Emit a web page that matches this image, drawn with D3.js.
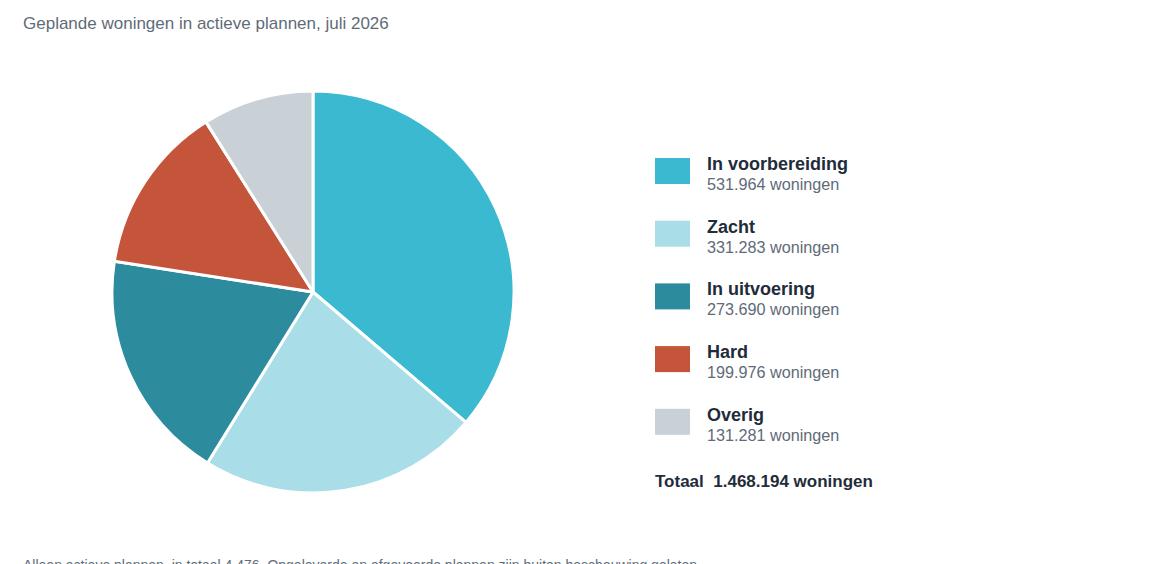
<!DOCTYPE html>
<html><head><meta charset="utf-8">
<script src="https://cdn.jsdelivr.net/npm/d3@7"></script>
<style>
html,body{margin:0;padding:0;background:#fff;}
svg{display:block;}
</style></head>
<body>
<svg id="chart" width="1160" height="564"></svg>
<script>
const categories = ["In voorbereiding", "Zacht", "In uitvoering", "Hard", "Overig"];
const values = [531964, 331283, 273690, 199976, 131281];
const colors = ["#3ab9d1", "#a9dde7", "#2d8b9e", "#c4553a", "#c9d1d7"];
const titleText = "Geplande woningen in actieve plannen, juli 2026";
const footerText = "Alleen actieve plannen, in totaal 4.476. Opgeleverde en afgevoerde plannen zijn buiten beschouwing gelaten.";

const fmt = d3.formatLocale({decimal: ",", thousands: ".", grouping: [3], currency: ["€", ""]}).format(",d");
const svg = d3.select("#chart");
const data = categories.map((c, i) => ({cat: c, value: values[i], color: colors[i]}));
const FONT = "Liberation Sans, Arial, sans-serif";

svg.append("text").attr("x", 23).attr("y", 29)
  .attr("font-family", FONT).attr("font-size", 17)
  .attr("fill", "#5f6b78").text(titleText);

const pie = d3.pie().value(d => d.value).sort(null);
const arc = d3.arc().innerRadius(0).outerRadius(201);
const g = svg.append("g").attr("transform", "translate(313,292)");
g.selectAll("path").data(pie(data)).join("path")
  .attr("d", arc).attr("fill", d => d.data.color)
  .attr("stroke", "#fff").attr("stroke-width", 3).attr("stroke-linejoin", "round");

const legend = svg.append("g").attr("transform", "translate(655,158)");
const rows = legend.selectAll("g").data(data).join("g")
  .attr("transform", (d, i) => `translate(0,${i * 62.7})`);
rows.append("rect").attr("width", 35).attr("height", 26).attr("fill", d => d.color);
rows.append("text").attr("x", 52).attr("y", 12)
  .attr("font-family", FONT).attr("font-size", 18)
  .attr("font-weight", "bold").attr("fill", "#1f2d3a").text(d => d.cat);
rows.append("text").attr("x", 52).attr("y", 32)
  .attr("font-family", FONT).attr("font-size", 16.2)
  .attr("fill", "#5f6b78").text(d => fmt(d.value) + " woningen");

const total = d3.sum(values);
svg.append("text").attr("x", 655).attr("y", 487)
  .attr("font-family", FONT).attr("font-size", 17)
  .attr("font-weight", "bold").attr("fill", "#1f2d3a")
  .attr("xml:space", "preserve").style("white-space", "pre")
  .text("Totaal  " + fmt(total) + " woningen");

svg.append("text").attr("x", 23).attr("y", 570)
  .attr("font-family", FONT).attr("font-size", 14)
  .attr("fill", "#5f6b78").text(footerText);
</script>
</body></html>
